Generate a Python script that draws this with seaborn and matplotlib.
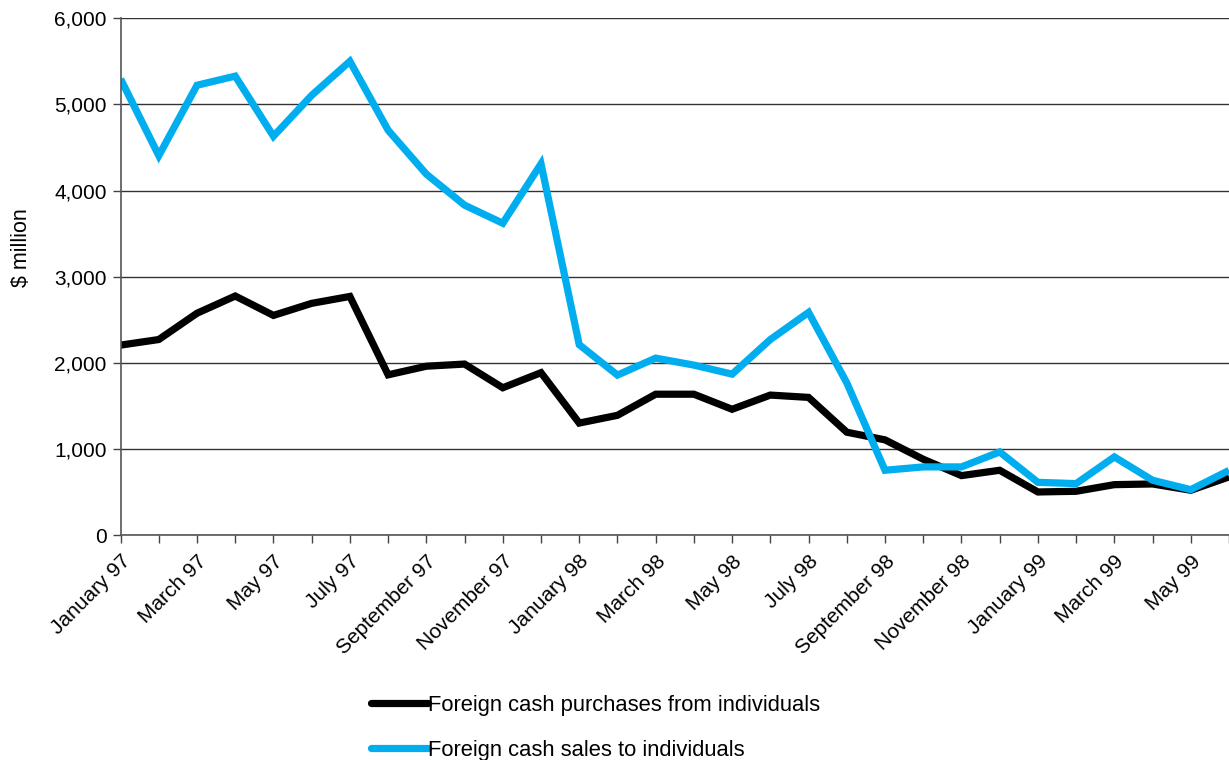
import matplotlib

matplotlib.use("Agg")
import matplotlib.pyplot as plt
import numpy as np
import pandas as pd
import seaborn as sns

# Monthly series, January 97 to June 99 ($ million)
months = [
    "January 97", "February 97", "March 97", "April 97", "May 97", "June 97",
    "July 97", "August 97", "September 97", "October 97", "November 97", "December 97",
    "January 98", "February 98", "March 98", "April 98", "May 98", "June 98",
    "July 98", "August 98", "September 98", "October 98", "November 98", "December 98",
    "January 99", "February 99", "March 99", "April 99", "May 99", "June 99",
]
purchases = [
    2205, 2270, 2575, 2775, 2550, 2690, 2770, 1860, 1960, 1985,
    1710, 1885, 1300, 1390, 1635, 1635, 1460, 1625, 1598, 1194,
    1105, 880, 690, 752, 500, 508, 585, 593, 520, 675,
]
sales = [
    5295, 4405, 5222, 5328, 4630, 5105, 5500, 4700, 4190, 3830,
    3620, 4310, 2210, 1857, 2054, 1973, 1868, 2270, 2585, 1767,
    752, 791, 791, 965, 612, 597, 907, 636, 527, 750,
]
series_names = [
    "Foreign cash purchases from individuals",
    "Foreign cash sales to individuals",
]
series_colors = ["#000000", "#00AEEF"]

df = pd.concat(
    [
        pd.DataFrame({"idx": np.arange(len(months)), "value": purchases, "series": series_names[0]}),
        pd.DataFrame({"idx": np.arange(len(months)), "value": sales, "series": series_names[1]}),
    ],
    ignore_index=True,
)

sns.set_theme(style="white")
plt.rcParams["font.family"] = ["Liberation Sans", "DejaVu Sans"]
plt.rcParams["text.color"] = "black"
plt.rcParams["xtick.color"] = "black"
plt.rcParams["ytick.color"] = "black"

fig = plt.figure(figsize=(12.29, 7.60), dpi=100)
ax = fig.add_axes([0.0981, 0.296, 0.9019, 0.680])

sns.lineplot(
    data=df, x="idx", y="value", hue="series",
    palette=dict(zip(series_names, series_colors)),
    linewidth=5.2, ax=ax, legend=False,
)
for line in ax.get_lines():
    line.set_solid_joinstyle("miter")
    line.set_solid_capstyle("butt")

ax.set_ylim(0, 6000)
ax.set_xlim(0, 28.78)
ax.set_yticks(np.arange(0, 6001, 1000))
ax.set_yticklabels([f"{v:,}" for v in range(0, 6001, 1000)], fontsize=15)
ax.set_xticks(np.arange(len(months)))
ax.set_xticklabels(
    [m if i % 2 == 0 else "" for i, m in enumerate(months)],
    rotation=45, ha="right", rotation_mode="anchor", fontsize=15,
)
ax.tick_params(axis="both", direction="out", length=6, width=1,
               bottom=True, left=True, pad=4)
ax.tick_params(axis="both", color="#444444", labelcolor="black")
ax.tick_params(axis="x", pad=6)
ax.grid(axis="y", color="#333333", linewidth=1)
ax.set_axisbelow(True)
for side in ["top", "right"]:
    ax.spines[side].set_visible(False)
for side in ["left", "bottom"]:
    ax.spines[side].set_color("#555555")
    ax.spines[side].set_linewidth(1.2)

ax.set_xlabel("")
ax.set_ylabel("$ million", fontsize=15.5, color="black")
ax.yaxis.set_label_coords(-0.080, 0.557)

handles = [plt.Line2D([], [], color=c, linewidth=5.2, solid_capstyle="round") for c in series_colors]
fig.legend(
    handles, series_names, loc="upper left", bbox_to_anchor=(0.302, 0.086),
    frameon=False, fontsize=15.8, handlelength=2.6, handletextpad=0.0,
    labelspacing=1.1, borderaxespad=0, borderpad=0,
)

fig.savefig("out.png", dpi=100)
